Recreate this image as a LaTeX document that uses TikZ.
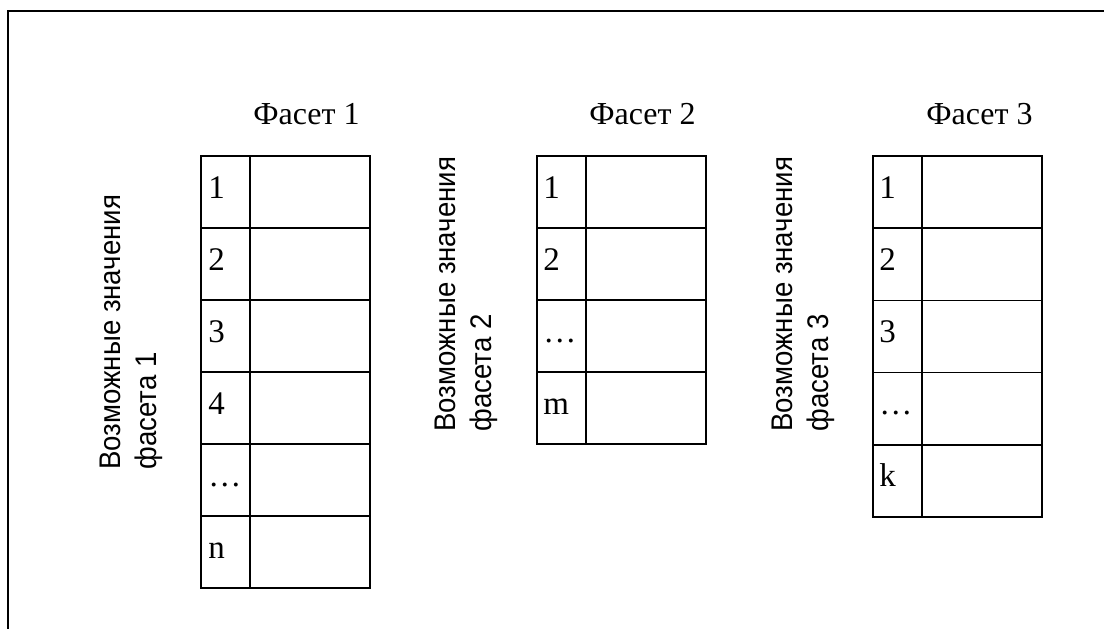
\documentclass[tikz,border=0pt]{standalone}
\usepackage{fontspec}
\usepackage{graphicx}
\setmainfont{Liberation Serif}
\newfontfamily\labelfont{Liberation Sans}
\newcommand{\tallside}[1]{\scalebox{1}[1.08]{#1}}
\begin{document}
\begin{tikzpicture}[x=0.5pt,y=-0.5pt,
  frameline/.style={line width=1.1pt},
  gridline/.style={line width=0.85pt},
  celltext/.style={anchor=base west,inner sep=0pt,font=\fontsize{16.5}{19}\selectfont},
  headtext/.style={anchor=base west,inner sep=0pt,font=\fontsize{16}{19}\selectfont},
  sidetext/.style={anchor=base west,inner sep=0pt,rotate=90,font=\labelfont\fontsize{13.8}{16}\selectfont}]
\useasboundingbox (0,0) rectangle (1104,629);
% outer frame (clipped at right and bottom)
\coordinate (ftr) at (1104,11);
\coordinate (ftl) at (8,11);
\coordinate (fbl) at (8,629);
\draw[frameline] (ftr) -- (ftl) -- (fbl);

% headers
\node[headtext] (h1) at (253,124) {Фасет 1};
\node[headtext] (h2) at (589,124) {Фасет 2};
\node[headtext] (h3) at (926,124) {Фасет 3};

% side labels
\node[sidetext] (l1a) at (120,470) {\tallside{Возможные значения}};
\node[sidetext] (l1b) at (156,470) {\tallside{фасета 1}};
\node[sidetext] (l2a) at (455,432) {\tallside{Возможные значения}};
\node[sidetext] (l2b) at (491,432) {\tallside{фасета 2}};
\node[sidetext] (l3a) at (792,432) {\tallside{Возможные значения}};
\node[sidetext] (l3b) at (828,432) {\tallside{фасета 3}};

% table 1
\foreach \i/\t in {0/1,1/2,2/3,3/4,4/\dots,5/n}{
  \draw[gridline] (201,156+72*\i) rectangle (250,228+72*\i);
  \draw[gridline] (250,156+72*\i) rectangle (370,228+72*\i);
  \node[celltext] (ta\i) at (208,198+72*\i) {\t};
}
% table 2
\foreach \i/\t in {0/1,1/2,2/\dots,3/m}{
  \draw[gridline] (537,156+72*\i) rectangle (586,228+72*\i);
  \draw[gridline] (586,156+72*\i) rectangle (706,228+72*\i);
  \node[celltext] (tb\i) at (543,198+72*\i) {\t};
}
% table 3
\foreach \i/\t in {0/1,1/2,2/3,3/\dots,4/k}{
  \draw[gridline] (873,156+72.2*\i) rectangle (922,228.2+72.2*\i);
  \draw[gridline] (922,156+72.2*\i) rectangle (1042,228.2+72.2*\i);
  \node[celltext] (tc\i) at (879,198+72.2*\i) {\t};
}
\end{tikzpicture}
\end{document}
